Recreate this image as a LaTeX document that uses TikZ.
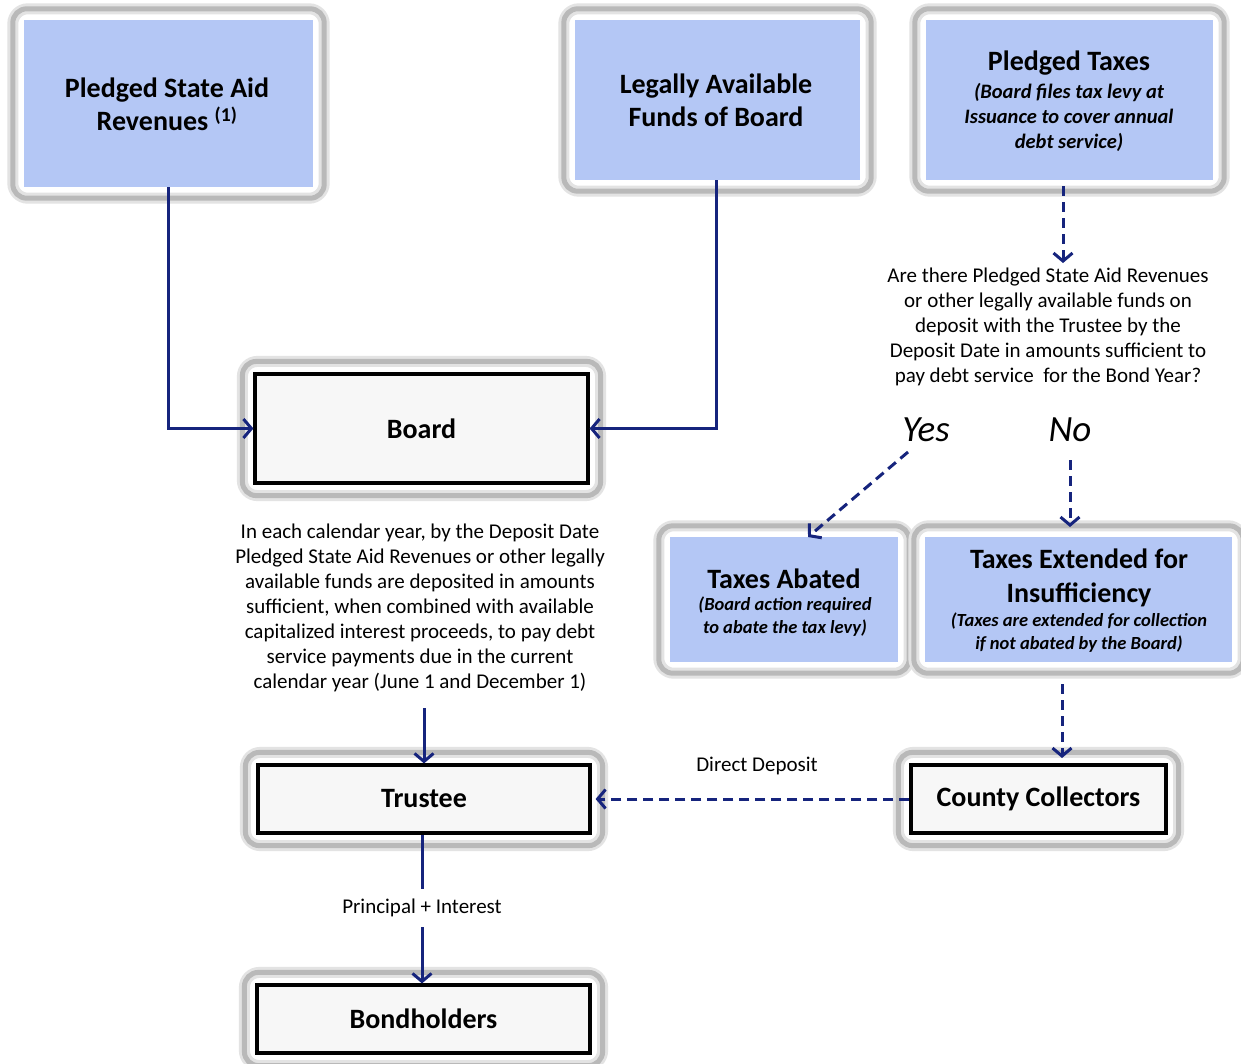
\documentclass[tikz,border=0pt]{standalone}
\usepackage{fontspec}
\setmainfont{Carlito}
\usetikzlibrary{arrows.meta,backgrounds}
\definecolor{boxblue}{RGB}{180,199,245}
\definecolor{navy}{RGB}{22,36,125}
\definecolor{boardfill}{RGB}{247,247,247}
\begin{document}
\begin{tikzpicture}[x=1pt,y=-1pt,
  bluebox/.style={rectangle, fill=boxblue, inner sep=0pt},
  blackbox/.style={rectangle, draw=black, line width=3.2pt, fill=boardfill, inner sep=0pt,
    font=\bfseries\fontsize{28}{30}\selectfont},
  titletext/.style={align=center, inner sep=0pt, font=\bfseries\fontsize{28}{33}\selectfont},
  bigtitle/.style={align=center, inner sep=0pt, font=\bfseries\fontsize{28}{34}\selectfont},
  subtext/.style={align=center, inner sep=0pt, font=\bfseries\itshape\fontsize{20.5}{25}\selectfont},
  smallsub/.style={align=center, inner sep=0pt, font=\bfseries\itshape\fontsize{18.5}{23}\selectfont},
  bodytext/.style={align=center, inner sep=0pt, font=\fontsize{21}{25}\selectfont},
  answer/.style={inner sep=0pt, font=\itshape\fontsize{37}{40}\selectfont},
  labeltext/.style={inner sep=2pt, font=\fontsize{21}{24}\selectfont},
  frameout/.style={draw=gray!22, line width=11pt, rounded corners=15pt},
  framein/.style={draw=gray!55, line width=5pt, rounded corners=14pt},
  conn/.style={draw=navy, line width=3pt, -{Straight Barb[length=8pt,width=19pt,line width=3pt]}},
  dconn/.style={conn, dash pattern=on 10pt off 6pt}]

\useasboundingbox (0,0) rectangle (1241,1063);

% blue boxes
\node[bluebox, minimum width=289pt, minimum height=167pt] (psar) at (168.5,103.5) {};
\node[titletext] (psart) at (167,104) {Pledged State Aid\\Revenues \textsuperscript{(1)}};

\node[bluebox, minimum width=285pt, minimum height=160pt] (legal) at (717.5,100) {};
\node[titletext] (legalt) at (716,100) {Legally Available\\Funds of Board};

\node[bluebox, minimum width=287pt, minimum height=160pt] (ptax) at (1069.5,100) {};
\node[bigtitle] (ptaxt) at (1069,63) {Pledged Taxes};
\node[subtext] (ptaxs) at (1069,117) {(Board files tax levy at\\Issuance to cover annual\\debt service)};

\node[bluebox, minimum width=228pt, minimum height=125pt] (abated) at (784,599.5) {};
\node[bigtitle] (abatedt) at (784,579) {Taxes Abated};
\node[smallsub] (abateds) at (785,617) {(Board action required\\to abate the tax levy)};

\node[bluebox, minimum width=307pt, minimum height=125pt] (ext) at (1078.5,599.5) {};
\node[bigtitle] (extt) at (1079,578) {Taxes Extended for\\Insufficiency};
\node[smallsub] (exts) at (1079,633) {(Taxes are extended for collection\\if not abated by the Board)};

% black boxes
\node[blackbox, minimum width=333pt, minimum height=109pt] (board) at (421.5,428.5) {Board};
\node[blackbox, minimum width=332pt, minimum height=68pt] (trustee) at (424,799) {Trustee};
\node[blackbox, minimum width=333pt, minimum height=68pt] (bond) at (423.5,1019) {Bondholders};
\node[blackbox, minimum width=255pt, minimum height=68pt] (county) at (1038.5,799) {County Collectors};

% frames
\begin{scope}[on background layer]
\fill[white] (0,0) rectangle (1241,1063);
\foreach \n in {psar,legal,ptax,abated,ext,board,trustee,bond,county}{
  \draw[frameout] ([xshift=-11pt,yshift=11pt]\n.north west) rectangle ([xshift=11pt,yshift=-11pt]\n.south east);
  \draw[framein] ([xshift=-11pt,yshift=11pt]\n.north west) rectangle ([xshift=11pt,yshift=-11pt]\n.south east);
}
\end{scope}

% texts
\node[bodytext] (question) at (1048,327) {Are there Pledged State Aid Revenues\\or other legally available funds on\\deposit with the Trustee by the\\Deposit Date in amounts sufficient to\\pay debt service\ \ for the Bond Year?};
\node[answer] (yes) at (926,430) {Yes};
\node[answer] (no) at (1070,430) {No};
\node[bodytext] (boardtext) at (420,608) {In each calendar year, by the Deposit Date\\Pledged State Aid Revenues or other legally\\available funds are deposited in amounts\\sufficient, when combined with available\\capitalized interest proceeds, to pay debt\\service payments due in the current\\calendar year (June 1 and December 1)};

% coordinates
\coordinate (ptaxbot) at (1063,186);
\coordinate (qtop) at (1063,263);
\coordinate (yesstart) at (908,452);
\coordinate (abtop) at (808,537);
\coordinate (nostart) at (1070,460);
\coordinate (notip) at (1070,527);
\coordinate (extbot) at (1062,684);
\coordinate (countytop) at (1062,758);
\coordinate (btstart) at (424,708);

% connectors
\draw[conn] (psar.south) |- (board.west);
\draw[conn] ([xshift=-1.5pt]legal.south) |- (board.east);
\draw[dconn] (ptaxbot) -- (qtop);
\draw[dconn] (yesstart) -- (abtop);
\draw[dconn] (nostart) -- (notip);
\draw[dconn] (extbot) -- (countytop);
\draw[dconn] (county.west) -- ([xshift=4pt]trustee.east);
\node[labeltext] (dd) at (757,766) {Direct Deposit};
\draw[conn] (btstart) -- (trustee.north);
\draw[conn] ([xshift=-2pt]trustee.south) -- ([xshift=-1.5pt]bond.north)
  node[pos=0.49, labeltext, fill=white, inner ysep=10pt] (pi) {Principal + Interest};
\end{tikzpicture}
\end{document}
